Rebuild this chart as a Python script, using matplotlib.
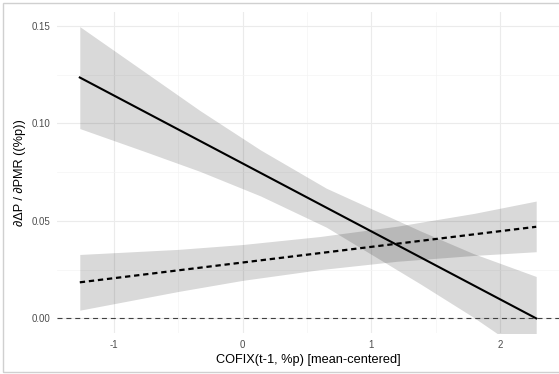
import numpy as np
import matplotlib.pyplot as plt
from matplotlib.patches import Rectangle

# %% dados
x_line = [-1.264, 2.28]
y_solid = [0.1236, 0.0]
y_dashed = [0.0185, 0.047]

x_band_solid = [-1.264, -0.75, -0.33, 0.14, 0.65, 1.38, 1.79, 2.28]
up_solid = [0.1497, 0.1260, 0.1066, 0.0864, 0.0668, 0.0449, 0.0333, 0.0215]
lo_solid = [0.0974, 0.0854, 0.0754, 0.0628, 0.0468, 0.0177, 0.0007, -0.0215]

x_band_dashed = [-1.264, -0.5, 0.0, 0.6, 1.2, 1.8, 2.28]
up_dashed = [0.0328, 0.0354, 0.0379, 0.0420, 0.0473, 0.0539, 0.0602]
lo_dashed = [0.0042, 0.0138, 0.0195, 0.0250, 0.0293, 0.0323, 0.0342]

xticks = [-1, 0, 1, 2]
yticks = [0.00, 0.05, 0.10, 0.15]
ytick_labels = ['0.00', '0.05', '0.10', '0.15']

# %% figura
plt.rcParams['font.family'] = ['Liberation Sans', 'DejaVu Sans']
plt.rcParams['axes.unicode_minus'] = False

fig = plt.figure(figsize=(5.59, 3.74), dpi=100)
ax = fig.add_axes([57/559, 1 - 333/374, 502/559, 321/374])

ax.fill_between(x_band_solid, lo_solid, up_solid, color='black', alpha=0.15, lw=0)
ax.fill_between(x_band_dashed, lo_dashed, up_dashed, color='black', alpha=0.15, lw=0)

ax.axhline(0, color='0.25', lw=0.8, ls=(0, (4.5, 3.5)), zorder=2)
ax.plot(x_line, y_solid, color='black', lw=1.5, zorder=3)
ax.plot(x_line, y_dashed, color='black', lw=1.6, ls=(0, (2.4, 1.7)), zorder=3)

ax.set_xlim(-1.441, 2.457)
ax.set_ylim(-0.0075, 0.1572)
ax.set_xticks(xticks)
ax.set_xticks([-0.5, 0.5, 1.5], minor=True)
ax.set_yticks(yticks)
ax.set_yticklabels(ytick_labels)
ax.set_yticks([0.025, 0.075, 0.125], minor=True)

ax.grid(which='major', color='#EBEBEB', lw=0.8)
ax.grid(which='minor', color='#F4F4F4', lw=0.5)
ax.set_axisbelow(True)
for s in ax.spines.values():
    s.set_visible(False)
ax.tick_params(which='both', length=0, labelsize=7.0, colors='#4D4D4D')
ax.tick_params(axis='y', pad=5)
ax.tick_params(axis='x', pad=5)

ax.set_xlabel('COFIX(t-1, %p) [mean-centered]', fontsize=9.2, labelpad=3)
ax.set_ylabel('∂ΔP / ∂PMR ((%p))', fontsize=9.2, labelpad=4)

# borda cinza do fundo
fig.add_artist(Rectangle((3/559, 2.5/374), 1.2, 371/374 - 2.5/374,
                         transform=fig.transFigure, fill=False,
                         edgecolor='#D0D0D0', lw=1.0))

fig.savefig('out.png', dpi=100)
